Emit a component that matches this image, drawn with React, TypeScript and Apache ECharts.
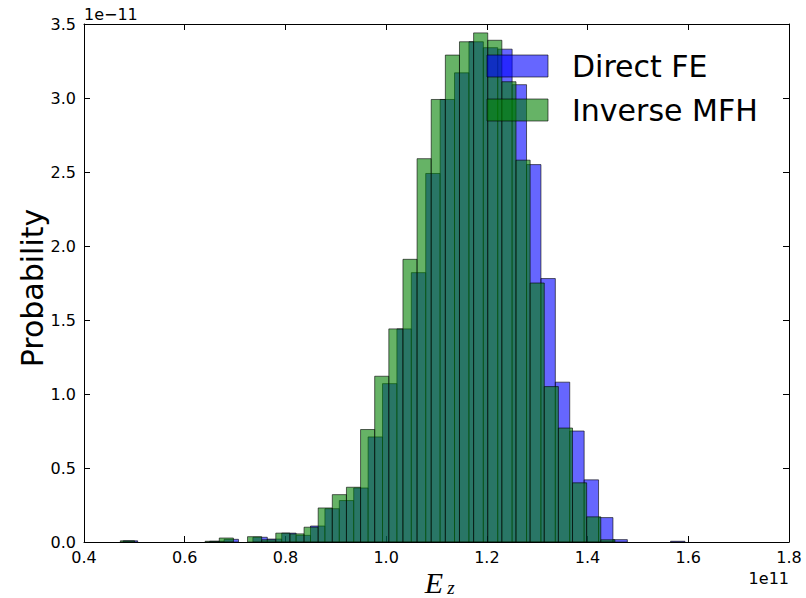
import React, { useEffect, useRef } from "react";
import * as echarts from "echarts";

// Histogram bins (x in units of 1e11, heights in units of 1e-11)
const directFEBinStart = 0.478;
const directFEBinWidth = 0.0286;
const directFE = [
  0.008, 0, 0, 0, 0, 0, 0.005, 0.018, 0, 0.032,
  0.02, 0.06, 0.045, 0.108, 0.225, 0.28, 0.365, 0.71, 1.07, 1.44,
  1.82, 2.49, 2.99, 3.17, 3.38, 3.34, 3.33, 3.09, 2.55, 1.78,
  1.08, 0.75, 0.42, 0.165, 0.016, 0, 0, 0, 0.005, 0,
];

const inverseMFHBinStart = 0.4722;
const inverseMFHBinWidth = 0.02806;
const inverseMFH = [
  0.008, 0, 0, 0, 0, 0, 0.005, 0.027, 0, 0.036,
  0.015, 0.06, 0.055, 0.1, 0.23, 0.32, 0.37, 0.76, 1.12, 1.44,
  1.91, 2.59, 2.99, 3.29, 3.38, 3.44, 3.39, 3.11, 2.58, 1.75,
  1.05, 0.77, 0.4, 0.17, 0.015,
];

const seriesNames = ["Direct FE", "Inverse MFH"];
const xMin = 0.4, xMax = 1.8, xStep = 0.2;
const yMin = 0, yMax = 3.5, yStep = 0.5;

function toBins(start: number, width: number, heights: number[]) {
  return heights
    .map((h, i) => [start + i * width, start + (i + 1) * width, h])
    .filter((d) => d[2] > 0);
}

const blueFill = "rgba(0,0,255,0.6)";
const greenFill = "rgba(0,128,0,0.6)";
const edge = "rgba(0,0,0,0.6)";
const sans = "DejaVu Sans";

function makeRender(fill: string) {
  return (params: any, api: any) => {
    const x0 = api.value(0);
    const x1 = api.value(1);
    const y = api.value(2);
    const p0 = api.coord([x0, y]);
    const p1 = api.coord([x1, 0]);
    return {
      type: "rect",
      shape: { x: p0[0], y: p0[1], width: p1[0] - p0[0], height: p1[1] - p0[1] },
      style: { fill, stroke: edge, lineWidth: 1 },
    };
  };
}

export default function App() {
  const ref = useRef<HTMLDivElement>(null);
  useEffect(() => {
    if (!ref.current) return;
    const chart = echarts.init(ref.current, null, { renderer: "svg" });
    const axisCommon = {
      axisLine: { show: true, onZero: false, lineStyle: { color: "#000", width: 1 } },
      axisTick: { show: true, inside: true, length: 6, lineStyle: { color: "#000", width: 1 } },
      splitLine: { show: false },
    };
    chart.setOption({
      animation: false,
      grid: { left: 84, top: 24, width: 705, height: 518 },
      xAxis: [
        {
          type: "value", min: xMin, max: xMax, interval: xStep, position: "bottom",
          ...axisCommon,
          axisLabel: {
            formatter: (v: number) => v.toFixed(1), fontSize: 16, color: "#000",
            fontFamily: sans, margin: 7, showMinLabel: true, showMaxLabel: true,
          },
        },
        {
          type: "value", min: xMin, max: xMax, interval: xStep, position: "top",
          ...axisCommon, axisLabel: { show: false },
        },
      ],
      yAxis: [
        {
          type: "value", min: yMin, max: yMax, interval: yStep, position: "left",
          ...axisCommon,
          axisLabel: {
            formatter: (v: number) => v.toFixed(1), fontSize: 16, color: "#000",
            fontFamily: sans, margin: 8, showMinLabel: true, showMaxLabel: true,
          },
        },
        {
          type: "value", min: yMin, max: yMax, interval: yStep, position: "right",
          ...axisCommon, axisLabel: { show: false },
        },
      ],
      series: [
        {
          name: seriesNames[0], type: "custom", xAxisIndex: 0, yAxisIndex: 0,
          renderItem: makeRender(blueFill), encode: { x: [0, 1], y: 2 },
          data: toBins(directFEBinStart, directFEBinWidth, directFE), clip: true,
        },
        {
          name: seriesNames[1], type: "custom", xAxisIndex: 0, yAxisIndex: 0,
          renderItem: makeRender(greenFill), encode: { x: [0, 1], y: 2 },
          data: toBins(inverseMFHBinStart, inverseMFHBinWidth, inverseMFH), clip: true,
        },
      ],
      graphic: [
        { type: "rect", z: 100, shape: { x: 487, y: 55, width: 61, height: 22 }, style: { fill: blueFill, stroke: edge, lineWidth: 1 } },
        { type: "text", z: 100, x: 572, y: 66, style: { text: seriesNames[0], fontSize: 30, fontFamily: sans, fill: "#000", verticalAlign: "middle", align: "left" } },
        { type: "rect", z: 100, shape: { x: 487, y: 99, width: 61, height: 22 }, style: { fill: greenFill, stroke: edge, lineWidth: 1 } },
        { type: "text", z: 100, x: 572, y: 110, style: { text: seriesNames[1], fontSize: 30, fontFamily: sans, fill: "#000", verticalAlign: "middle", align: "left" } },
        { type: "text", x: 84, y: 14, style: { text: "1e\u221211", fontSize: 16, fontFamily: sans, fill: "#000", verticalAlign: "middle", align: "left" } },
        { type: "text", x: 789, y: 578, style: { text: "1e11", fontSize: 16, fontFamily: sans, fill: "#000", verticalAlign: "middle", align: "right" } },
        { type: "text", x: 32, y: 288, rotation: Math.PI / 2, style: { text: "Probability", fontSize: 30, fontFamily: sans, fill: "#000", verticalAlign: "middle", align: "center" } },
        { type: "text", x: 434, y: 597, style: { text: "E", fontSize: 30, fontFamily: "Liberation Serif", fontStyle: "italic", fill: "#000", verticalAlign: "bottom", align: "center" } },
        { type: "text", x: 451, y: 597, style: { text: "z", fontSize: 19, fontFamily: "Liberation Serif", fontStyle: "italic", fill: "#000", verticalAlign: "bottom", align: "center" } },
      ],
    });
    return () => chart.dispose();
  }, []);
  return <div ref={ref} style={{ width: 806, height: 598, position: "absolute", left: 0, top: 0 }} />;
}
